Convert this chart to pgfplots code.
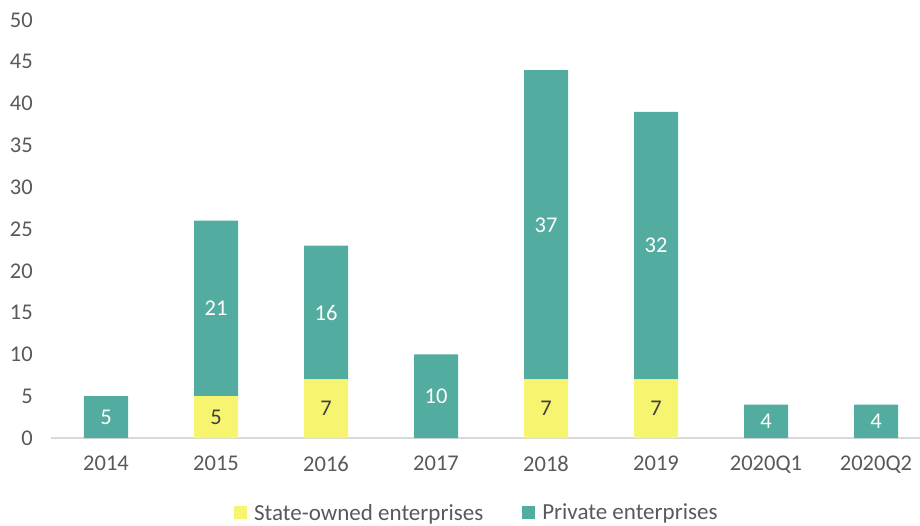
\documentclass[border=0pt]{standalone}
\usepackage{pgfplots}
\usepackage{pgfplotstable}
\pgfplotsset{compat=1.18}
\usepackage{fontspec}
\setmainfont{Carlito}
\definecolor{tealc}{HTML}{52AC9F}
\definecolor{yelc}{HTML}{F7F570}
\definecolor{txtc}{HTML}{595959}
\definecolor{axlc}{HTML}{D9D9D9}
\pgfplotstableread{
x state private
0 0 5
1 5 21
2 7 16
3 0 10
4 7 37
5 7 32
6 0 4
7 0 4
}\data
\begin{document}
\begin{tikzpicture}[x=1pt,y=1pt]
\path[use as bounding box] (0,0) rectangle (920,525);
\begin{axis}[
 at={(51pt,87pt)}, anchor=south west,
 scale only axis, width=869pt, height=418pt,
 ybar stacked, bar width=44pt,
 xmin=-0.5, xmax=7.4, ymin=0, ymax=50,
 ytick={0,5,...,50},
 xtick={0,...,7},
 xticklabels={2014,2015,2016,2017,2018,2019,2020Q1,2020Q2},
 axis lines*=left,
 y axis line style={draw=none},
 x axis line style={draw=axlc, line width=1.3pt, -},
 major tick length=0pt,
 /pgf/number format/assume math mode=true,
 tick label style={text=txtc, font=\fontsize{22.5}{26}\selectfont, inner sep=0pt},
 yticklabel shift=18pt,
 xticklabel shift=18pt,
 legend columns=2,
 legend style={at={(0.49,-0.179)}, anchor=center, draw=none, fill=none,
   font=\fontsize{23}{27}\selectfont, text=txtc,
   /tikz/every odd column/.append style={column sep=5pt},
   /tikz/every even column/.append style={column sep=37pt}},
 legend image code/.code={\draw[#1,draw=none] (0pt,-6.5pt) rectangle (13pt,6.5pt);},
]
\addplot[fill=yelc, draw=none,
  visualization depends on={\thisrow{state} \as \rawy},
  nodes near coords={\ifdim\rawy pt>0pt \pgfmathprintnumber{\rawy}\fi},
  every node near coord/.append style={anchor=center, text=black!75, font=\fontsize{22.5}{26}\selectfont}
] table[x=x,y=state]{\data};
\addplot[fill=tealc, draw=none,
  visualization depends on={\thisrow{private} \as \rawy},
  nodes near coords={\ifdim\rawy pt>0pt \pgfmathprintnumber{\rawy}\fi},
  every node near coord/.append style={anchor=center, text=white, font=\fontsize{22.5}{26}\selectfont}
] table[x=x,y=private]{\data};
\legend{State-owned enterprises, Private enterprises}
\end{axis}
\end{tikzpicture}
\end{document}
